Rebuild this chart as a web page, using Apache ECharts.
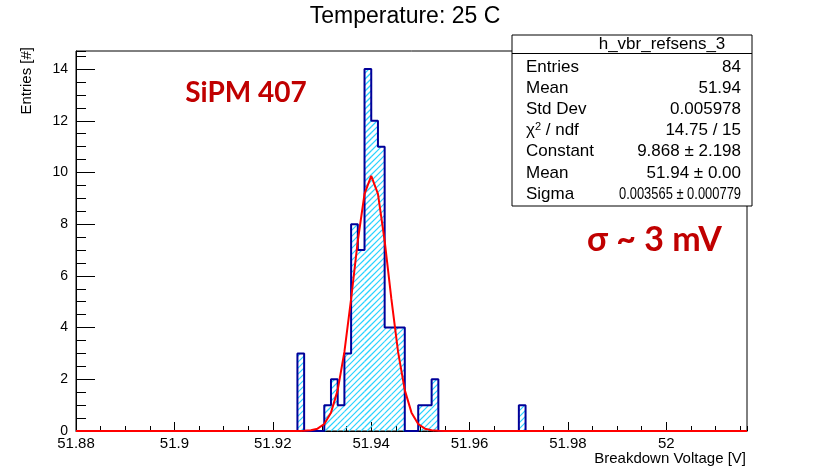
<!DOCTYPE html>
<html><head><meta charset="utf-8">
<script src="https://cdn.jsdelivr.net/npm/echarts@6/dist/echarts.min.js"></script>
<style>html,body{margin:0;padding:0;background:#fff}#c{width:819px;height:469px}</style>
</head><body><div id="c"></div>
<script>
// ---- data ----
const chartTitle = 'Temperature: 25 C';
const xAxisTitle = 'Breakdown Voltage [V]';
const yAxisTitle = 'Entries [#]';
const xMin = 51.88, xMax = 52.0164, binWidth = 0.001364;
const firstBin = 33; // index of first listed bin
const counts = [3,0,0,0,1,2,1,3,8,7,14,12,11,4,4,4,0,0,1,1,2,0,0,0,0,0,0,0,0,0,0,0,0,1];
const fitFirstPoint = 33;
const fitValues = [0,0.01,0.03,0.09,0.27,0.71,1.58,3.06,5.11,7.36,9.17,9.87,9.17,7.36,5.11,3.06,1.58,0.71,0.27,0.09,0.03,0.01,0];
const statsTitle = 'h_vbr_refsens_3';
const statsLabels = ['Entries','Mean','Std Dev','χ{sup|2} / ndf','Constant','Mean','Sigma'];
const statsValues = ['84','51.94','0.005978','14.75 / 15','9.868 ± 2.198','51.94 ± 0.00','0.003565 ± 0.000779'];
const note1 = 'SiPM 407';
const note2 = 'σ ~ 3 mV';
const yMax = 14.7;

// ---- build ----
const histData = [[xMin, 0]];
counts.forEach((c, i) => histData.push([xMin + (firstBin + i) * binWidth, c]));
histData.push([xMin + (firstBin + counts.length) * binWidth, 0]);
histData.push([xMax, 0]);

const binRects = [];
counts.forEach((c, i) => { if (c > 0) binRects.push([xMin + (firstBin + i) * binWidth, xMin + (firstBin + i + 1) * binWidth, c]); });

const fitData = [[xMin, 0]];
fitValues.forEach((v, i) => fitData.push([xMin + (fitFirstPoint + i) * binWidth, v]));
fitData.push([xMax, 0]);

const HATCH = 6;
const HATCH_COLOR = 'rgb(40,210,255)';
function renderHatch(params, api) {
  const p0 = api.coord([api.value(0), 0]);
  const p1 = api.coord([api.value(1), api.value(2)]);
  const L = p0[0], R = p1[0], B = p0[1], T = p1[1];
  const children = [];
  for (let k = Math.ceil((L + T) / HATCH) * HATCH; k <= R + B; k += HATCH) {
    const xa = Math.max(L, k - B), xb = Math.min(R, k - T);
    if (xb > xa) children.push({type:'line', shape:{x1:xa, y1:k - xa, x2:xb, y2:k - xb},
      style:{stroke:HATCH_COLOR, fill:null, lineWidth:1.2, opacity:1}});
  }
  return {type:'group', children};
}

const F = 'Liberation Sans, Arial, sans-serif';
const statsTop = 67, statsStep = 21.2;
const graphics = [
  {type:'text', x:405, y:17, z:100, style:{text:chartTitle, font:'23px '+F, fill:'#000', align:'center', verticalAlign:'middle'}},
  {type:'text', x:746, y:459, z:100, style:{text:xAxisTitle, font:'15px '+F, fill:'#000', align:'right', verticalAlign:'middle'}},
  {type:'text', x:27, y:47, rotation:Math.PI/2, z:100, style:{text:yAxisTitle, font:'15px '+F, fill:'#000', align:'right', verticalAlign:'middle'}},
  {type:'rect', z:100, shape:{x:512, y:35, width:240, height:171}, style:{fill:'#fff', stroke:'#000', lineWidth:1}},
  {type:'line', z:101, shape:{x1:512, y1:53.5, x2:752, y2:53.5}, style:{stroke:'#000', lineWidth:1}},
  {type:'text', x:662, y:44, z:102, style:{text:statsTitle, font:'17px '+F, fill:'#000', align:'center', verticalAlign:'middle'}},
  {type:'text', x:246, y:93, z:100, style:{text:note1, font:'bold 28px Lato, sans-serif', fill:'#c00000', align:'center', verticalAlign:'middle'}},
  {type:'text', x:587, y:240, z:100, style:{text:note2, font:'bold 34px Lato, sans-serif', fill:'#c00000', align:'left', verticalAlign:'middle'}}
];
statsLabels.forEach((t, i) => {
  graphics.push({type:'text', x:526, y:statsTop + i*statsStep, z:102, style:{text:t, font:'17px '+F, fill:'#000', align:'left', verticalAlign:'middle', rich:{sup:{fontSize:11, fontFamily:F, verticalAlign:'top', padding:[0,0,8,0]}}}});
  const long = statsValues[i].length > 15;
  graphics.push({type:'text', x:741, y:statsTop + i*statsStep, z:102, scaleX: long ? 0.76 : 1, style:{text:statsValues[i], font:'17px '+F, fill:'#000', align:'right', verticalAlign:'middle'}});
});

const chart = echarts.init(document.getElementById('c'), null, {renderer:'canvas'});
chart.setOption({
  animation: false,
  backgroundColor: '#fff',
  grid: {left:76, top:51, width:671, height:380, show:true, borderColor:'#000', borderWidth:1, backgroundColor:'transparent'},
  xAxis: [
    {type:'value', min:xMin, max:xMax, interval:0.02, position:'bottom',
     axisLine:{show:true, lineStyle:{color:'#000', width:1}},
     axisTick:{show:true, inside:true, length:9, lineStyle:{color:'#000'}},
     axisLabel:{show:true, margin:5, fontSize:15, fontFamily:F, color:'#000', showMaxLabel:false, showMinLabel:true},
     splitLine:{show:false}},
    {type:'value', min:xMin, max:xMax, interval:0.005, position:'bottom',
     axisLine:{show:false}, axisLabel:{show:false}, splitLine:{show:false},
     axisTick:{show:true, inside:true, length:5, lineStyle:{color:'#000'}}}
  ],
  yAxis: [
    {type:'value', min:0, max:yMax, interval:2, position:'left',
     axisLine:{show:true, lineStyle:{color:'#000', width:1}},
     axisTick:{show:true, inside:true, length:19, lineStyle:{color:'#000'}},
     axisLabel:{show:true, margin:8, fontSize:14, fontFamily:F, color:'#000', showMaxLabel:false},
     splitLine:{show:false}},
    {type:'value', min:0, max:yMax, interval:0.5, position:'left', offset:0,
     axisLine:{show:false}, axisLabel:{show:false}, splitLine:{show:false},
     axisTick:{show:true, inside:true, length:10, lineStyle:{color:'#000'}}}
  ],
  series: [
    {type:'custom', xAxisIndex:0, yAxisIndex:0, data:binRects, encode:{x:[0,1], y:2}, renderItem:renderHatch, z:1, silent:true,
     itemStyle:{color:HATCH_COLOR}},
    {type:'line', xAxisIndex:0, yAxisIndex:0, data:histData, step:'end', symbol:'none', z:2,
     lineStyle:{color:'#000099', width:2}},
    {type:'line', xAxisIndex:0, yAxisIndex:0, data:fitData, symbol:'none', smooth:false, z:3,
     lineStyle:{color:'#ff0000', width:2}}
  ],
  graphic: graphics
});
</script>
</body></html>
